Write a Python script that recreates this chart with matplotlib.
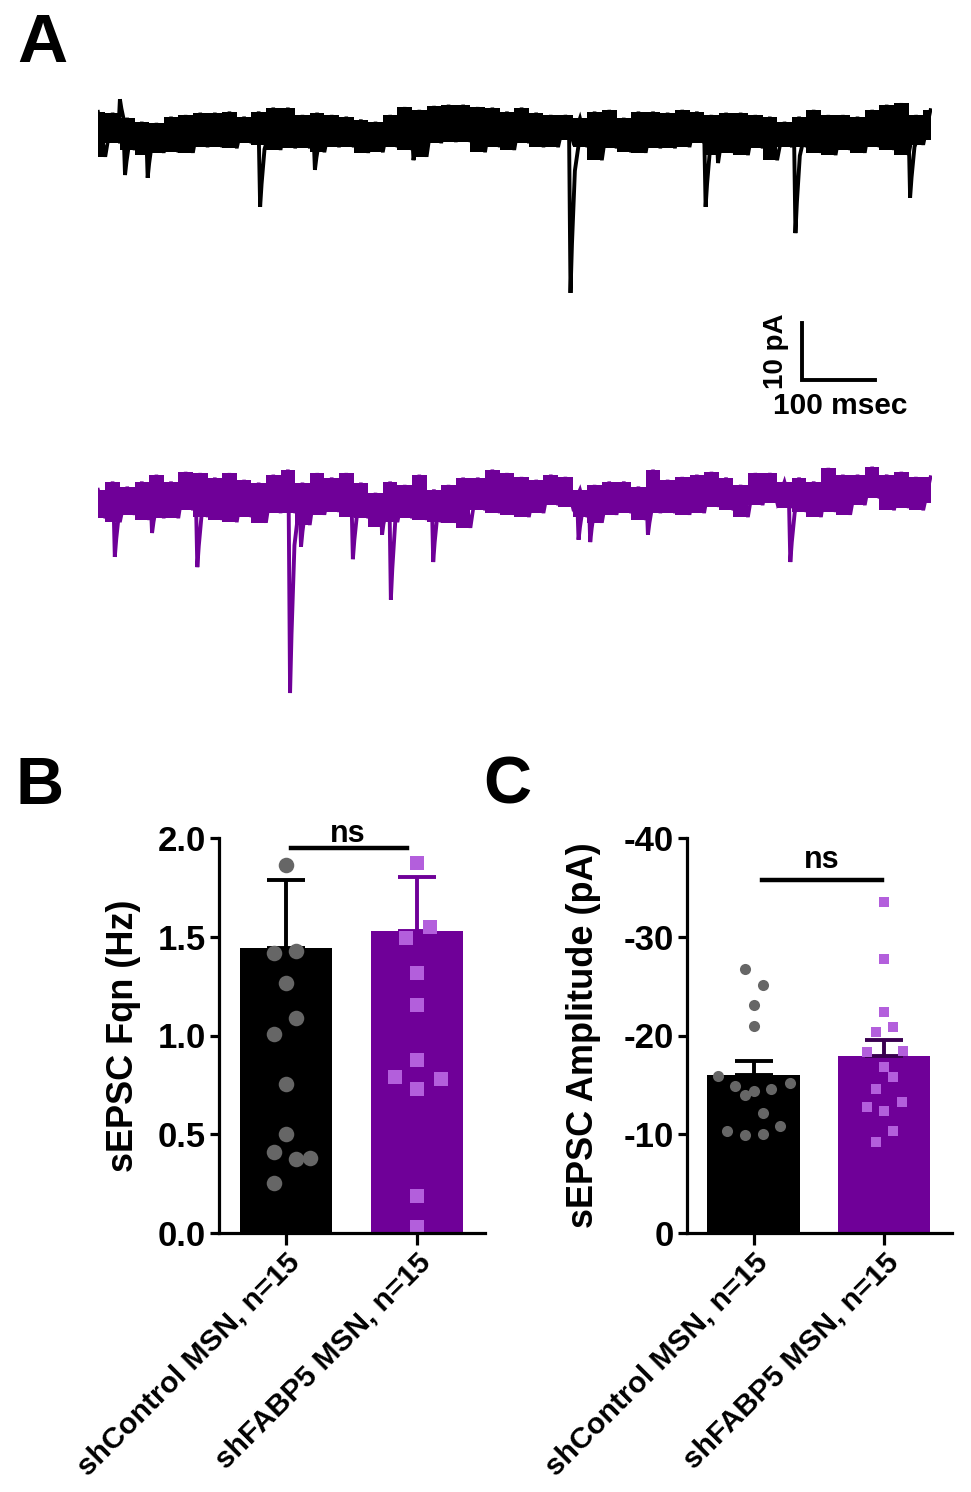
"""sEPSC traces and frequency / amplitude bar charts (shControl vs shFABP5 MSN)."""

import numpy as np
import matplotlib
matplotlib.use("Agg")
import matplotlib.pyplot as plt

plt.rcParams["font.family"] = ["Liberation Sans", "DejaVu Sans"]
plt.rcParams["font.weight"] = "bold"
plt.rcParams["axes.labelweight"] = "bold"
plt.rcParams["axes.unicode_minus"] = False

BLACK = "#000000"
PURPLE = "#6f0098"
GREY_DOT = "#666666"
LIGHT_PURPLE = "#b35fdc"

# ---- traces: noise band edges (pA) sampled every 20 ms, plus events ----
TRACE_STEP_MS = 20
ctrl_top = [3.2, 3.0, 2.1, 1.4, 1.2, 2.3, 2.6, 3.0, 3.0, 3.2, 2.3, 3.2, 3.9, 3.9, 2.6,
            3.0, 2.6, 2.3, 1.8, 1.4, 2.6, 4.0, 3.5, 4.2, 4.4, 4.4, 4.0, 3.9, 3.2, 3.9,
            3.0, 2.6, 2.6, 2.1, 3.2, 3.5, 2.1, 3.2, 3.2, 3.0, 3.5, 3.2, 2.6, 3.0, 3.0,
            2.6, 2.3, 1.4, 2.3, 3.5, 2.6, 2.6, 2.3, 3.5, 4.4, 4.7, 2.6, 3.5]
ctrl_bottom = [-4.7, -2.3, -3.5, -4.4, -4.0, -3.9, -4.0, -3.0, -3.0, -3.2, -2.3, -2.6, -3.5,
               -3.2, -3.2, -3.9, -3.0, -3.0, -4.0, -3.9, -3.0, -3.5, -4.7, -2.3, -2.1, -2.1,
               -3.9, -3.0, -3.5, -2.3, -3.0, -3.0, -1.8, -3.0, -5.3, -3.2, -3.9, -4.0, -3.2,
               -3.2, -3.0, -2.3, -4.4, -4.0, -4.4, -3.2, -5.3, -3.0, -3.0, -4.0, -4.4, -3.5,
               -4.0, -3.0, -3.5, -4.4, -2.6, -1.8]
ctrl_event_ms = [30, 37, 68, 222, 297, 432, 647, 832, 849, 955, 1112]
ctrl_event_pa = [5.4, -7.9, -8.4, -13.5, -7.0, -5.3, -28.6, -13.5, -5.8, -18.1, -11.9]

kd_top = [1.1, 2.5, 1.6, 2.5, 3.7, 2.5, 4.2, 4.0, 3.2, 4.0, 2.8, 2.3, 3.7, 4.6, 2.3,
          4.0, 3.2, 4.0, 2.3, 0.5, 2.5, 1.9, 3.7, 1.1, 1.9, 3.2, 3.2, 4.6, 4.0, 3.3,
          2.8, 3.7, 3.3, 1.1, 1.9, 2.5, 2.5, 1.6, 4.6, 2.8, 3.3, 3.7, 4.2, 3.2, 1.9,
          4.0, 4.0, 2.5, 3.2, 2.5, 4.9, 3.7, 3.7, 5.1, 3.7, 4.2, 3.3, 3.3]
kd_bottom = [-3.9, -4.6, -3.3, -4.2, -3.9, -3.9, -2.5, -3.7, -4.2, -4.6, -3.7, -4.7, -3.0,
             -3.0, -5.1, -3.3, -2.8, -3.7, -3.9, -5.4, -4.6, -3.9, -4.2, -4.6, -4.7, -5.6,
             -2.5, -3.0, -3.3, -3.7, -3.0, -1.6, -1.9, -3.7, -4.7, -3.3, -3.0, -4.2, -3.0,
             -3.0, -3.3, -3.0, -1.9, -2.5, -3.7, -1.6, -1.2, -2.1, -2.8, -3.7, -2.8, -3.3,
             -1.6, -0.4, -2.5, -2.1, -2.5, -1.2]
kd_event_ms = [23, 74, 136, 263, 278, 349, 389, 401, 459, 658, 674, 753, 948]
kd_event_pa = [-10.7, -6.5, -12.5, -34.6, -8.9, -11.1, -6.8, -18.2, -11.6, -7.7, -8.1, -6.8, -11.6]

# ---- panel B: sEPSC frequency (Hz) ----
groups = ["shControl MSN, n=15", "shFABP5 MSN, n=15"]
freq_mean = [1.443, 1.53]
freq_sem = [0.344, 0.275]
freq_ctrl = [1.863, 1.42, 1.428, 1.264, 1.09, 1.006, 0.753, 0.501, 0.412, 0.373, 0.378, 0.255]
freq_ctrl_jit = [0.0, -0.09, 0.076, 0.0, 0.076, -0.09, 0.0, 0.0, -0.09, 0.076, 0.18, -0.09]
freq_kd = [1.872, 1.492, 1.551, 1.318, 1.154, 0.876, 0.792, 0.778, 0.728, 0.187, 0.03]
freq_kd_jit = [0.0, -0.084, 0.099, 0.0, 0.0, 0.0, -0.168, 0.183, 0.0, 0.0, 0.0]

# ---- panel C: sEPSC amplitude (pA) ----
amp_mean = [-16.03, -17.95]
amp_sem = [1.35, 1.62]
amp_ctrl = [-26.73, -25.08, -23.05, -20.92, -15.86, -14.92, -14.34, -14.0, -14.61, -15.19,
            -12.15, -10.36, -9.95, -10.02, -10.87]
amp_ctrl_jit = [-0.069, 0.071, 0.0, 0.0, -0.275, -0.14, 0.0, -0.069, 0.135, 0.28,
                0.071, -0.204, -0.069, 0.071, 0.204]
amp_kd = [-33.48, -27.75, -22.34, -20.86, -20.32, -18.29, -18.39, -16.77, -15.76, -14.61,
          -12.72, -12.38, -13.23, -10.29, -9.25]
amp_kd_jit = [0.0, 0.0, 0.0, 0.069, -0.064, -0.135, 0.145, 0.0, 0.069, -0.064,
              -0.135, 0.0, 0.14, 0.069, -0.064]

W, H = 971, 1492
fig = plt.figure(figsize=(W / 100, H / 100), dpi=100)


def px_axes(x0, y0, x1, y1):
    return fig.add_axes([x0 / W, 1 - y1 / H, (x1 - x0) / W, (y1 - y0) / H])


def draw_trace(ax, top, bottom, ev_t, ev_a, color):
    top = np.asarray(top)
    bottom = np.asarray(bottom)
    t = np.arange(len(top)) * TRACE_STEP_MS
    # blocky noise band, with a zig-zag over it for the jagged edges
    ax.fill_between(t, bottom, top, step="mid", color=color, lw=0)
    zt = np.column_stack([t, t + TRACE_STEP_MS / 2]).ravel()
    zy = np.column_stack([top, bottom]).ravel()
    ax.plot(zt[:-1], zy[:-1], color=color, lw=2.6, solid_joinstyle="miter")
    for et, ea in zip(ev_t, ev_a):
        ax.plot([et - 2, et, et + 2, et + 6, et + 14], [0, ea, ea * 0.7, ea * 0.25, 0],
                color=color, lw=2.8, solid_joinstyle="miter")
    ax.set_xlim(0, 1142)
    ax.axis("off")


# traces
ax_a1 = px_axes(98, 90, 932, 420)
draw_trace(ax_a1, ctrl_top, ctrl_bottom, ctrl_event_ms, ctrl_event_pa, BLACK)
ax_a1.set_ylim(-50.9, 7.02)
# scale bar: 10 pA / 100 msec
ax_a1.plot([964, 964, 1064], [-33.9, -43.9, -43.9], color=BLACK, lw=2.8,
           solid_joinstyle="miter", clip_on=False)
ax_a1.text(929, -38.9, "10 pA", rotation=90, ha="center", va="center", fontsize=20)
ax_a1.text(1016, -48.4, "100 msec", ha="center", va="center", fontsize=21.5)

ax_a2 = px_axes(98, 455, 932, 705)
draw_trace(ax_a2, kd_top, kd_bottom, kd_event_ms, kd_event_pa, PURPLE)
ax_a2.set_ylim(-36.7, 7.19)


def style_bar_axes(ax):
    for s in ["top", "right"]:
        ax.spines[s].set_visible(False)
    for s in ["left", "bottom"]:
        ax.spines[s].set_linewidth(2.3)
        ax.spines[s].set_zorder(5)
    ax.tick_params(axis="y", width=2.3, length=6.5, labelsize=25, pad=3)
    ax.tick_params(axis="x", width=2.3, length=8.5, labelsize=21.5, pad=2)
    ax.set_xticks([0, 1])
    ax.set_xticklabels(groups, rotation=45, ha="right", rotation_mode="anchor")
    ax.set_xlim(-0.511, 1.52)


def bars(ax, means, sems, err_colors, width):
    x = np.arange(len(means))
    ax.bar(x, means, width=width, color=[BLACK, PURPLE], zorder=1)
    for xi, m, s, c in zip(x, means, sems, err_colors):
        sign = 1 if m >= 0 else -1
        ax.errorbar(xi, m, yerr=[[0], [s]] if sign > 0 else [[s], [0]], color=c,
                    elinewidth=2.8, capsize=14, capthick=2.8, zorder=2)


# panel B
ax_b = px_axes(219, 838, 485, 1233)
bars(ax_b, freq_mean, freq_sem, [BLACK, PURPLE], 0.70)
ax_b.scatter(np.array(freq_ctrl_jit), freq_ctrl, s=125, color=GREY_DOT, lw=0, zorder=3, clip_on=False)
ax_b.scatter(1 + np.array(freq_kd_jit), freq_kd, s=90, marker="s", color=LIGHT_PURPLE, lw=0,
             zorder=3, clip_on=False)
ax_b.set_ylim(0, 2.0)
ax_b.set_yticks([0, 0.5, 1.0, 1.5, 2.0])
ax_b.set_yticklabels(["0.0", "0.5", "1.0", "1.5", "2.0"])
ax_b.set_ylabel("sEPSC Fqn (Hz)", fontsize=26, labelpad=12)
style_bar_axes(ax_b)
ax_b.plot([0.036, 0.926], [1.95, 1.95], color=BLACK, lw=3.2, clip_on=False)
ax_b.text(0.473, 1.98, "ns", ha="center", va="baseline", fontsize=22)

# panel C
ax_c = px_axes(687, 838, 952, 1233)
bars(ax_c, amp_mean, amp_sem, [BLACK, "#3a0050"], 0.71)
ax_c.scatter(np.array(amp_ctrl_jit), amp_ctrl, s=64, color=GREY_DOT, lw=0, zorder=3)
ax_c.scatter(1 + np.array(amp_kd_jit), amp_kd, s=50, marker="s", color=LIGHT_PURPLE, lw=0, zorder=3)
ax_c.set_ylim(0, -40)
ax_c.set_yticks([0, -10, -20, -30, -40])
ax_c.set_ylabel("sEPSC Amplitude (pA)", fontsize=26, labelpad=16)
style_bar_axes(ax_c)
ax_c.plot([0.064, 0.982], [-35.7, -35.7], color=BLACK, lw=3.2, clip_on=False)
ax_c.text(0.523, -37.0, "ns", ha="center", va="baseline", fontsize=22)

# panel letters
fig.text(17 / W, 1 - 62 / H, "A", fontsize=50, ha="left", va="baseline")
fig.text(15 / W, 1 - 804 / H, "B", fontsize=48, ha="left", va="baseline")
fig.text(483 / W, 1 - 804 / H, "C", fontsize=48, ha="left", va="baseline")

plt.savefig("out.png", dpi=100)
plt.close()
